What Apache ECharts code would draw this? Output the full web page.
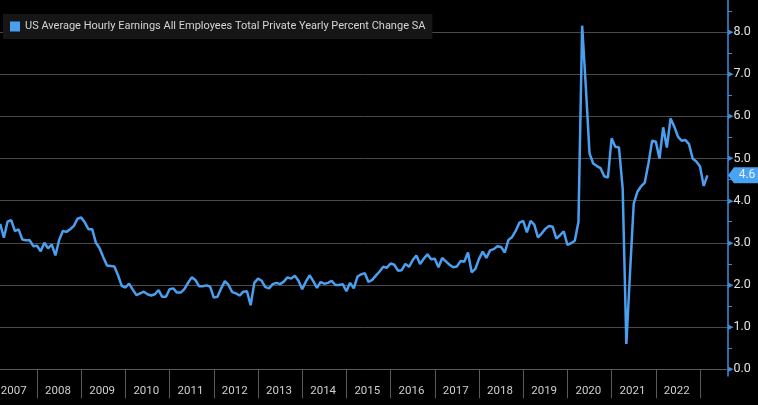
<!DOCTYPE html>
<html><head><meta charset="utf-8">
<script src="https://cdn.jsdelivr.net/npm/echarts@6/dist/echarts.min.js"></script>
<style>html,body{margin:0;padding:0;background:#000;}#c{width:758px;height:405px;}</style>
</head><body><div id="c"></div>
<script>
// ---- data ----
const seriesName = 'US Average Hourly Earnings All Employees Total Private Yearly Percent Change SA';
const startYear = 2007, startMonth = 2;          // first monthly observation: Feb 2007
const yearLabels = [2007,2008,2009,2010,2011,2012,2013,2014,2015,2016,2017,2018,2019,2020,2021,2022];
const yTickLabels = ['0.0','1.0','2.0','3.0','4.0','5.0','6.0','7.0','8.0'];
const lastValueLabel = '4.6';
const values = [
 3.45,3.12,3.50,3.54,3.28,3.32,3.08,3.06,3.06,2.92,2.93,
 2.80,3.00,2.87,2.96,2.70,3.06,3.28,3.26,3.32,3.40,3.57,3.60,
 3.48,3.32,3.32,3.00,2.87,2.66,2.46,2.45,2.44,2.23,1.98,1.94,
 2.03,1.89,1.76,1.80,1.84,1.78,1.75,1.78,1.88,1.72,1.72,1.90,
 1.92,1.82,1.82,1.90,2.05,2.18,2.12,1.97,1.97,1.99,1.96,1.70,
 1.72,1.92,2.09,2.00,1.83,1.80,1.75,1.84,1.85,1.52,2.05,2.15,
 2.10,1.95,1.92,2.02,2.05,2.02,2.08,2.18,2.15,2.22,2.10,1.90,
 2.08,2.23,2.09,1.93,2.07,2.03,2.05,2.10,2.00,2.00,2.02,1.85,
 2.05,1.92,2.20,2.25,2.28,2.07,2.12,2.22,2.32,2.43,2.41,2.51,
 2.48,2.34,2.35,2.50,2.43,2.59,2.70,2.50,2.62,2.73,2.61,2.62,
 2.42,2.64,2.56,2.48,2.42,2.44,2.57,2.55,2.77,2.30,2.38,2.62,
 2.79,2.64,2.82,2.85,2.92,2.90,2.77,3.07,3.14,3.29,3.48,3.52,
 3.25,3.52,3.43,3.13,3.22,3.33,3.40,3.38,3.10,3.18,3.27,2.95,
 2.99,3.05,3.50,8.15,6.70,5.12,4.88,4.82,4.77,4.58,4.55,5.48,
 5.28,5.26,4.29,0.60,2.30,3.93,4.21,4.34,4.43,4.88,5.42,5.40,
 5.00,5.74,5.26,5.95,5.76,5.52,5.42,5.44,5.34,5.00,4.93,4.81,
 4.35,4.60
];
// ---- view settings ----
const F = "Roboto,'Liberation Sans',sans-serif";
const lineColor = '#4a9ff0';
const axisBlue = '#3b8ee0';
const xMin = 2007, xMax = 2023.633;
const yMin = -0.159, yMax = 8.759;

// month-end dates as decimal years
const points = values.map((v, i) => [startYear + (startMonth + i) / 12, v]);

const chart = echarts.init(document.getElementById('c'), null, {renderer: 'canvas'});
chart.setOption({
  backgroundColor: '#000',
  animation: false,
  grid: {left: -7.2, right: 30, top: 0, bottom: 29, containLabel: false, outerBoundsMode: 'none'},
  legend: {
    left: 3, top: 14, padding: [7, 7, 7, 7], backgroundColor: '#161616',
    itemWidth: 10, itemHeight: 10, icon: 'rect',
    textStyle: {color: '#d4d4d4', fontSize: 11, fontFamily: F},
    data: [seriesName]
  },
  xAxis: {
    type: 'value', min: xMin, max: xMax, interval: 1,
    axisLine: {show: true, lineStyle: {color: '#5a5a5a', width: 1}},
    axisTick: {show: true, length: 29, lineStyle: {color: '#5a5a5a', width: 1}},
    axisLabel: {
      color: '#cfcfcf', fontSize: 11.5, fontFamily: F, align: 'left', padding: [0, 0, 0, 8], margin: 9,
      showMinLabel: true, showMaxLabel: false,
      formatter: v => yearLabels.indexOf(Math.round(v)) >= 0 && Math.abs(v - Math.round(v)) < 1e-6 ? String(Math.round(v)) : ''
    },
    splitLine: {show: false}
  },
  yAxis: {
    type: 'value', position: 'right', min: yMin, max: yMax, splitNumber: 9,
    axisLine: {show: true, lineStyle: {color: axisBlue, width: 1.5}},
    axisTick: {show: false},
    minorTick: {show: true, splitNumber: 2, length: 4, lineStyle: {color: axisBlue, width: 1}},
    axisLabel: {
      margin: 0, showMinLabel: false, showMaxLabel: false,
      formatter: v => {
        const s = v.toFixed(1);
        return yTickLabels.indexOf(s) >= 0 && Math.abs(v - Math.round(v)) < 1e-6 ? '{t|\u25B8}{v|' + s + '}' : '';
      },
      rich: {
        t: {color: axisBlue, fontSize: 11, fontFamily: 'DejaVu Sans'},
        v: {color: '#e0e0e0', fontSize: 12.5, fontFamily: F}
      }
    },
    splitLine: {show: true, showMinLine: false, showMaxLine: false, lineStyle: {color: '#4a4a4a', width: 1}}
  },
  series: [{
    name: seriesName, type: 'line', data: points, showSymbol: false, symbol: 'none',
    itemStyle: {color: lineColor},
    lineStyle: {color: lineColor, width: 2.5},
    markPoint: {
      symbol: 'path://M0,8 L7,0 L40,0 L40,16 L7,16 Z', symbolSize: [34, 16], symbolOffset: [17, 0],
      symbolKeepAspect: false,
      itemStyle: {color: '#4aa3f2'},
      label: {show: true, formatter: lastValueLabel, color: '#e4f1ff', fontSize: 12, fontFamily: F, offset: [2, 0]},
      data: [{coord: [xMax, values[values.length - 1]]}]
    }
  }]
});
</script></body></html>
